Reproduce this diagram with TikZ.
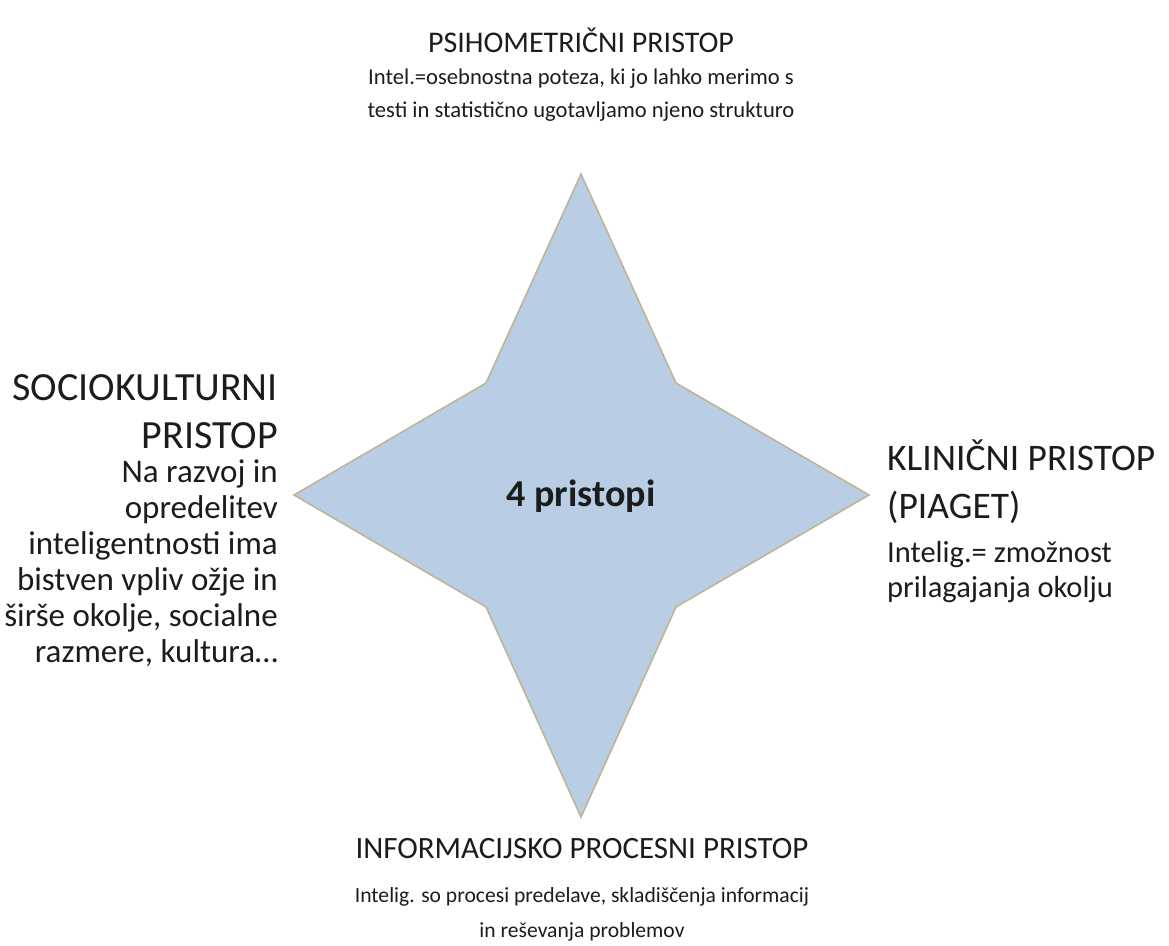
\documentclass[tikz,border=0pt]{standalone}
\usepackage{fontspec}
\setmainfont{Carlito}
\usetikzlibrary{positioning}
\definecolor{stfill}{HTML}{B9CDE5}
\definecolor{stedge}{HTML}{BDB696}
\definecolor{txt}{HTML}{1C1C1C}
\tikzset{
  star/.style={fill=stfill,draw=stedge,line width=1.6pt,line join=miter},
  head/.style={text=txt,inner sep=0pt,align=center,
               font=\fontsize{30}{40}\selectfont},
  sidehead/.style={text=txt,inner sep=0pt,font=\fontsize{40}{48}\selectfont},
  body/.style={text=txt,inner sep=0pt,align=center,
               font=\fontsize{22.6}{33}\selectfont},
  sidebody/.style={text=txt,inner sep=0pt,font=\fontsize{33}{36}\selectfont},
  core/.style={text=txt,inner sep=0pt,font=\fontsize{38}{44}\selectfont\bfseries},
}
\begin{document}
\begin{tikzpicture}[x=1pt,y=-1pt]
  \useasboundingbox (0,0) rectangle (1169,945);
  % star
  \draw[star] (581,174) -- (676,383) -- (869,495) -- (676,607) -- (581,817)
    -- (486,607) -- (294,495) -- (486,383) -- cycle;
  \node[core,anchor=base] (mid) at (581,506) {4 pristopi};
  % top
  \node[head,anchor=base] (psih) at (581,52) {PSIHOMETRIČNI PRISTOP};
  \node[body,anchor=base] (psihd) at (581,117)
    {Intel.=osebnostna poteza, ki jo lahko merimo s\\testi in statistično ugotavljamo njeno strukturo};
  % right
  \node[sidehead,font=\fontsize{37.5}{48}\selectfont,align=left,anchor=base west] (klin) at (887,518)
    {KLINIČNI PRISTOP\\(PIAGET)};
  \node[sidebody,font=\fontsize{30.5}{35}\selectfont,align=left,anchor=base west] (klind) at (887,597)
    {Intelig.= zmožnost\\prilagajanja okolju};
  % left
  \node[sidehead,align=right,anchor=base east] (soc) at (278,448)
    {SOCIOKULTURNI\\PRISTOP};
  \node[sidebody,align=right,anchor=base east] (socd) at (278,662)
    {Na razvoj in\\opredelitev\\inteligentnosti ima\\bistven vpliv ožje in\\širše okolje, socialne\\razmere, kultura…};
  % bottom
  \node[head,font=\fontsize{31}{40}\selectfont,anchor=base] (info) at (582,858)
    {INFORMACIJSKO PROCESNI PRISTOP};
  \node[body,font=\fontsize{21.6}{35}\selectfont,anchor=base] (infod) at (582,937)
    {Intelig. so procesi predelave, skladiščenja informacij\\in reševanja problemov};
\end{tikzpicture}
\end{document}
